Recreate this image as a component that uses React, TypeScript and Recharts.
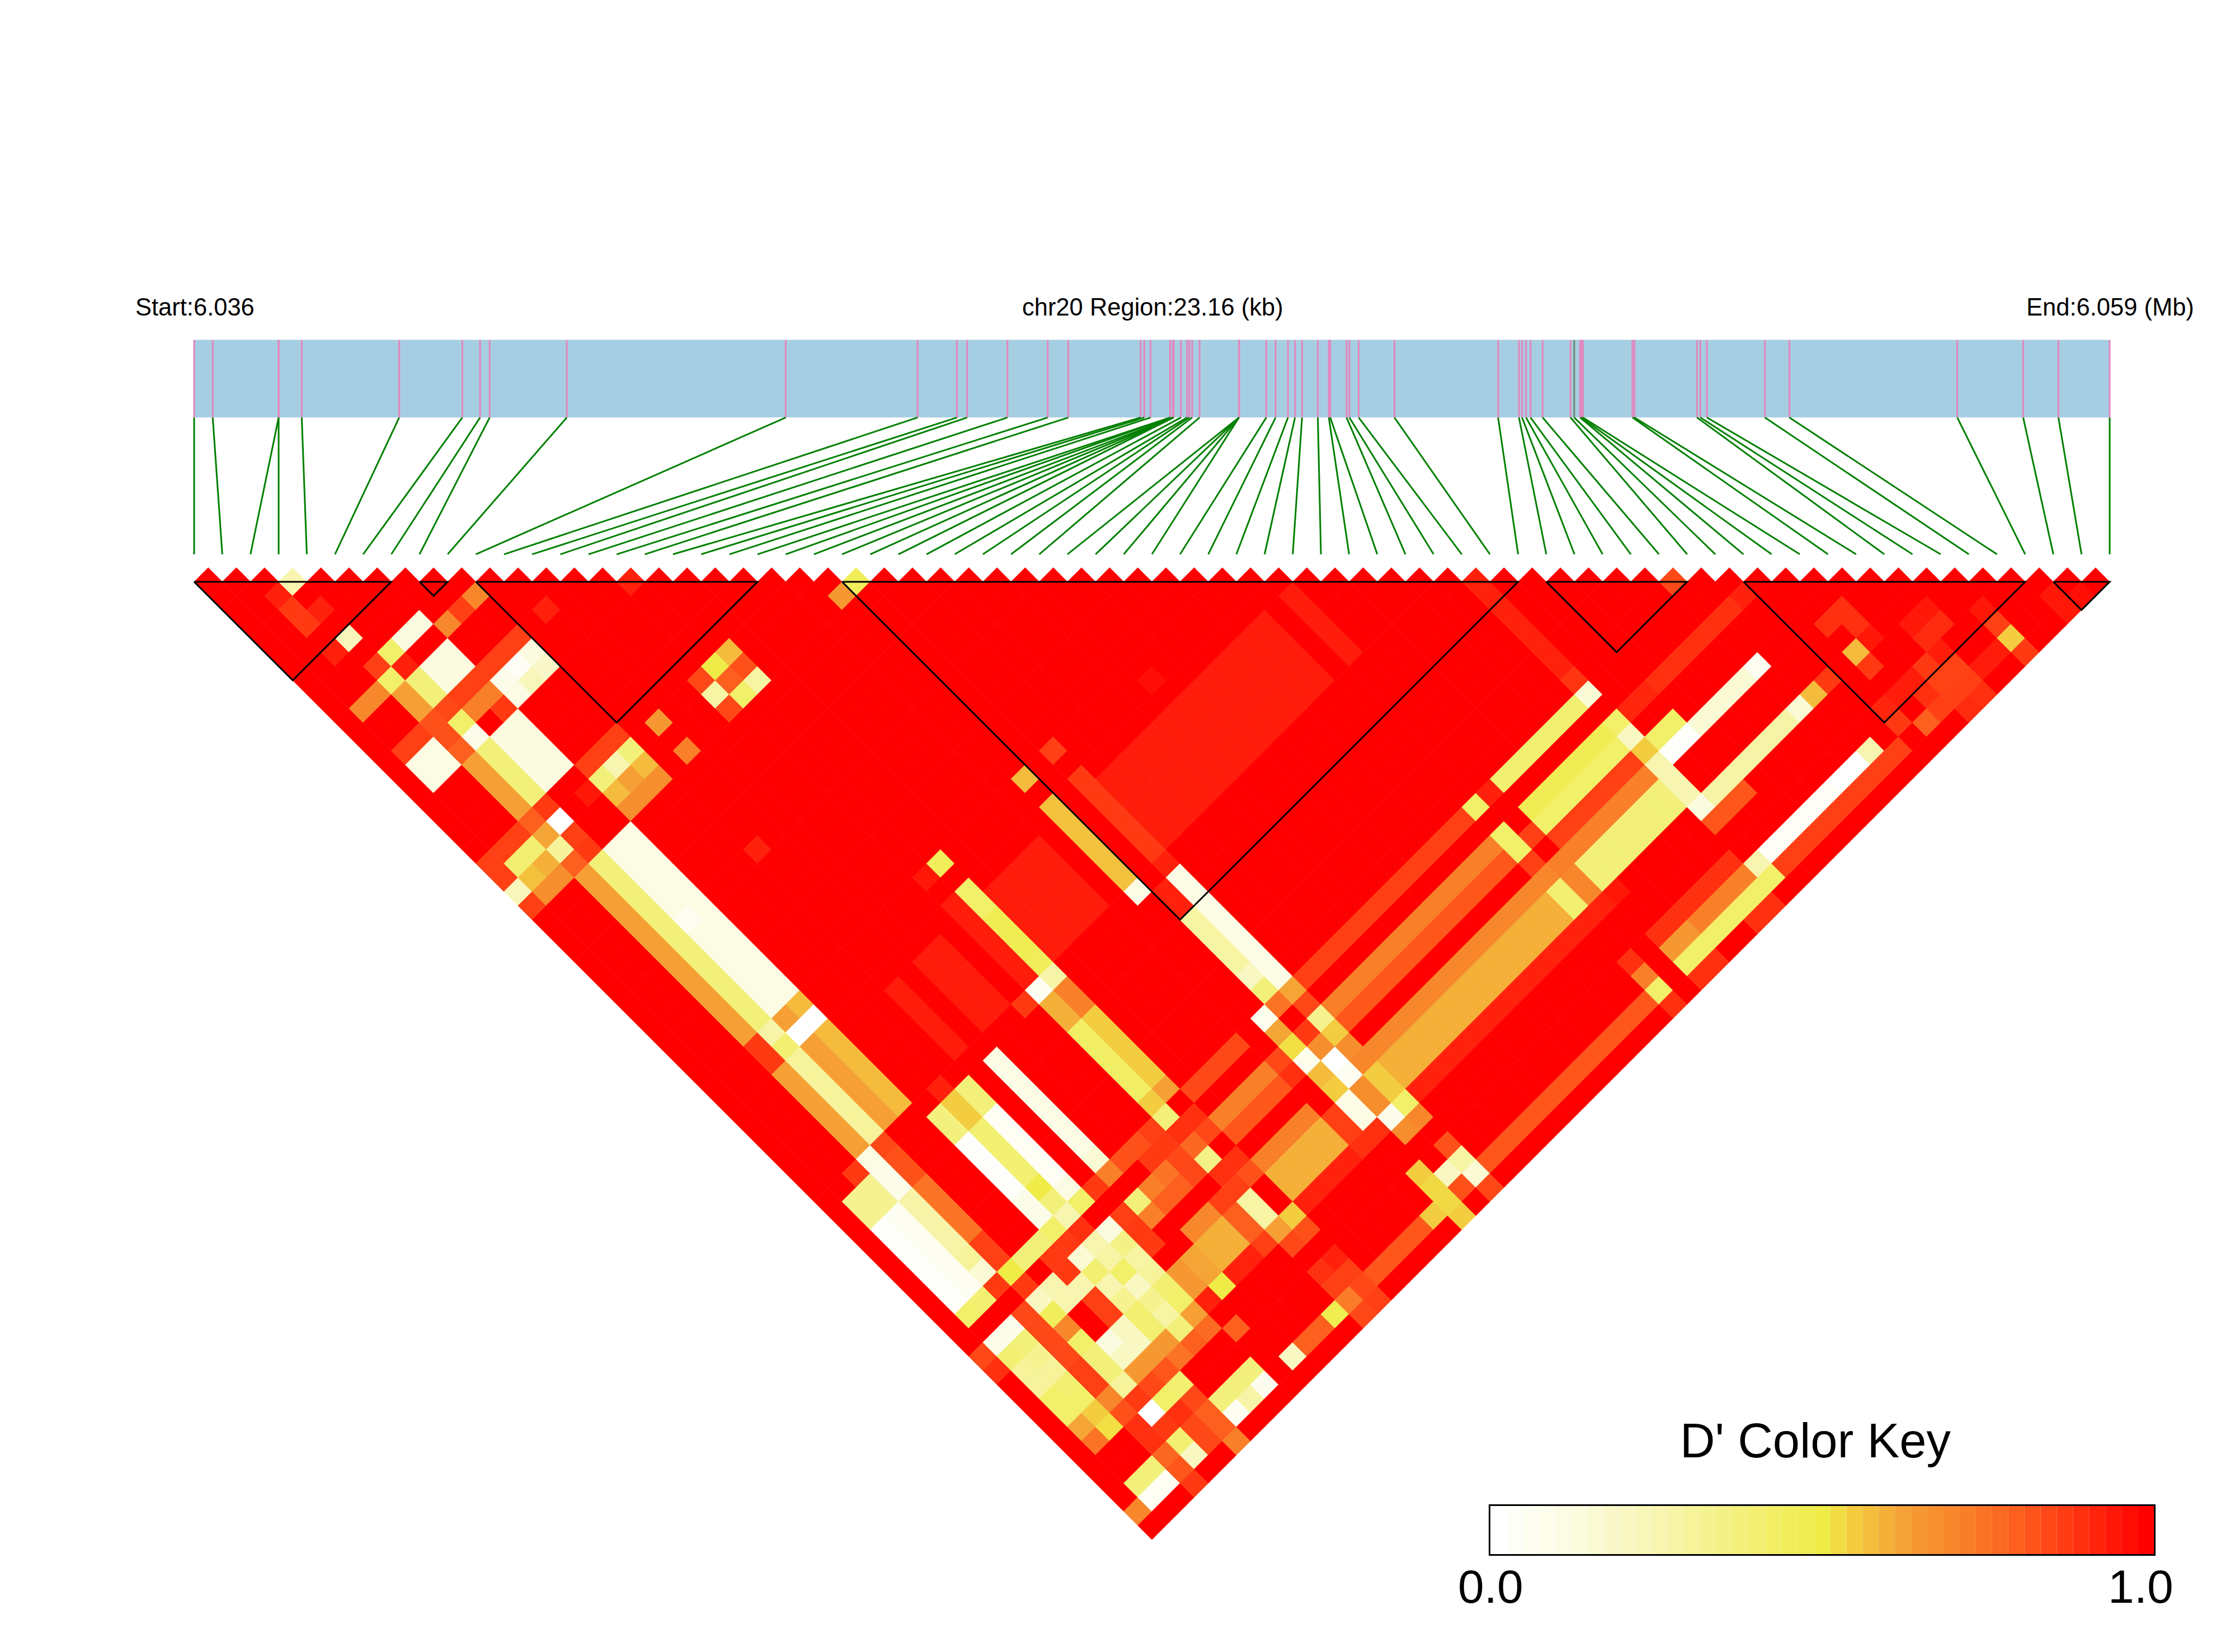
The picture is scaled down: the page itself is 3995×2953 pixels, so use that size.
import React from 'react';
import {
  ScatterChart, Scatter, XAxis, YAxis, ReferenceLine, ReferenceArea,
  BarChart, Bar, Cell,
} from 'recharts';

// SNP positions along the region, in units of SNP slots (0..68)
const snpPositions = [
  0, 0.66, 3, 3, 3.82, 7.28, 9.52, 10.15, 10.49, 13.23, 21.0,
  25.68, 27.08, 27.44, 28.87, 30.3, 31.03, 33.6, 33.73, 33.95,
  34.65, 34.65, 34.75, 34.75, 34.77, 34.77, 35.03, 35.25, 35.33, 35.43, 35.69,
  37.09, 37.09, 37.09, 37.09, 38.06, 38.39, 38.83, 39.08, 39.33, 39.89,
  40.28, 40.33, 40.91, 41.01, 41.34, 42.61, 46.29, 47.03, 47.14, 47.28, 47.44, 47.87,
  48.86, 48.99, 49.2, 49.24, 49.3, 51.06, 51.13, 53.35, 53.47, 53.7,
  55.76, 56.63, 62.59, 64.93, 66.18, 68,
];

// haplotype blocks, first and last SNP
const haploBlocks = [[0, 7], [8, 9], [10, 20], [23, 47], [48, 53], [55, 65], [66, 68]];

// D' values that are not 1.0: [iFrom, iTo, jFrom, jTo, d]
const ldBlocks = [
  [3,3,4,4,.25],[2,2,4,4,.93],[2,2,5,6,.88],[3,3,6,6,.93],[15,15,16,16,.93],[11,11,14,14,.93],[23,23,24,24,.45],[22,22,24,24,.65],
  [3,3,8,8,.22],[2,2,8,8,.93],[5,6,10,10,.12],[7,7,11,11,.7],[8,8,11,11,.87],[9,9,11,11,.7],[4,4,10,10,.42],[3,3,10,10,.87],[4,4,11,11,.93],[5,6,12,13,.12],[3,3,11,11,.42],[1,2,11,11,.7],[4,4,12,13,.38],[3,3,12,13,.63],
  [5,9,14,14,.87],[3,3,14,14,.83],[1,2,14,14,.87],[4,4,14,14,.85],
  [4,4,15,15,.42],[3,3,15,15,.83],[1,2,15,16,.1],[3,3,16,16,.8],[4,4,16,16,.08],[9,9,15,15,.12],[9,9,16,16,.18],[8,8,15,15,.03],[8,8,16,16,.22],[7,7,15,15,.08],[7,7,16,16,.1],[6,6,15,15,.72],[5,5,15,15,.72],[6,6,16,16,.88],
  [5,6,17,20,.12],[4,4,17,20,.38],[3,3,17,20,.63],
  [4,4,21,21,.88],[3,3,21,21,.8],[4,4,22,22,0],[3,3,22,22,.62],[2,2,22,22,.4],[3,3,23,23,.3],[2,2,23,23,.6],[1,1,22,22,.4],[1,1,23,23,.57],[0,2,21,21,.87],[0,0,22,22,.87],[0,0,23,23,.22],[0,0,24,24,.87],[1,2,24,24,.68],[3,3,24,24,.8],[4,4,23,23,.87],[4,4,24,24,.88],[6,6,22,22,.95],
  [7,9,21,21,.87],[9,9,22,22,.38],[8,8,22,22,.25],[7,7,22,22,.38],[9,9,23,23,.58],[8,8,23,23,.63],[7,7,23,23,.58],[7,9,24,24,.68],[11,11,22,22,.65],[11,11,24,24,.72],[10,10,30,30,.93],
  [16,16,22,22,.58],[15,15,22,22,.5],[16,16,23,23,.83],[14,14,22,22,.85],[15,15,23,23,.8],[16,16,24,24,.28],[14,14,23,23,.28],[15,15,24,24,.42],[14,14,24,24,.85],
  [5,6,25,36,.1],[5,5,30,30,.05],[4,4,25,36,.38],[3,3,25,36,.63],
  [6,6,37,37,.58],[5,5,37,37,.63],[4,4,37,37,.27],[3,3,37,37,.88],[5,6,38,38,0],[4,4,38,38,.4],[3,3,38,38,.88],[6,6,39,44,.58],[5,5,39,44,.63],[4,4,39,44,.3],[3,3,39,44,.63],
  [4,4,45,45,.85],[3,3,45,45,.1],[2,2,45,45,.88],[4,4,46,46,.83],[3,3,46,46,.08],[1,2,46,47,.33],[3,3,47,47,.08],[4,4,47,47,.83],[4,4,48,51,.75],[4,4,52,53,.87],[3,3,48,51,.27],[3,3,52,52,.3],[3,3,53,53,.15],[2,2,48,53,.05],[1,1,48,53,.02],[2,2,54,54,.4],[1,1,54,54,.42],[3,3,54,54,.88],[4,4,54,54,.5],[5,6,54,54,.38],[7,7,54,54,.42],
  [11,11,46,52,.1],[11,11,53,53,.15],[8,8,45,45,.93],[9,9,46,47,.38],[8,8,46,47,.55],[7,7,46,47,.37],[9,9,48,52,.04],[9,9,53,53,.1],[9,9,54,54,.42],[8,8,48,51,.4],[8,8,52,52,.5],[8,8,53,53,.38],[8,8,54,54,.25],[7,7,48,51,.02],[7,7,52,53,.08],
  [22,22,37,37,.58],[24,24,37,37,.87],[16,16,37,37,.45],[15,15,37,37,.95],[30,30,38,38,.97],[22,22,39,44,.57],[22,22,45,45,.1],[24,24,39,44,.88],[24,24,45,45,.93],[24,24,46,47,.1],[23,23,46,47,.93],[24,24,48,53,.1],[23,23,48,51,.28],[23,23,52,52,.2],[23,23,53,53,.38],[24,24,54,54,.62],[23,23,54,54,.75],[22,22,54,54,.07],
  [17,20,40,44,.94],[16,16,39,40,.42],[16,16,41,43,.47],[16,16,44,44,.45],[16,16,45,45,.27],[15,15,45,45,.05],[14,14,45,45,.88],[16,16,46,47,.72],[15,15,46,47,.6],[16,16,48,52,.55],[16,16,53,53,.63],[15,15,48,52,.43],[15,15,53,53,.55],[15,15,54,54,.38],[15,15,39,44,.94],[12,13,40,44,.94],[10,10,40,44,.94],[25,36,40,44,.94],[38,38,40,44,.94],[45,45,46,52,.93],[45,45,53,53,.89],[45,45,54,54,.15],[39,44,54,54,.4],[37,37,54,54,.42],[38,38,54,54,.93],[25,36,54,54,.87],[17,20,54,54,.85],[14,14,54,54,.87],[12,13,54,54,.83],[11,11,54,54,.72],[10,10,54,54,.88],
  [17,20,56,56,.72],[25,36,56,56,.72],[21,21,56,56,.85],[37,37,56,57,.42],[38,38,57,57,.87],[17,20,57,57,.82],[25,36,57,57,.82],[37,37,58,58,.87],[37,37,59,59,.7],[25,36,59,59,.7],[38,44,59,59,.72],[39,44,58,58,.87],[25,36,60,61,.6],[17,20,59,59,.72],[17,20,60,61,.6],[37,37,60,61,.4],[38,38,60,61,.7],[39,44,60,61,.38],
  [45,45,56,56,.42],[45,45,57,57,.2],[45,45,58,58,.55],[45,45,59,61,.25],[45,45,62,62,.12],[39,44,56,56,.47],[39,44,57,57,.42],[46,47,56,56,.92],[48,53,56,56,.9],[54,54,56,56,.93],[46,47,58,58,.42],[46,47,59,59,.02],[48,51,59,59,.15],[52,52,59,59,.05],[46,51,62,62,.27],[52,52,62,62,.15],[53,53,62,62,.58],[54,54,62,62,.88],[45,47,63,63,.82],[25,38,62,62,.93],[39,39,62,62,.95],[17,20,62,62,.93],[21,22,62,62,.9],
  [24,24,55,55,.85],[22,22,55,55,.62],[24,24,56,56,.33],[23,23,56,56,.88],[22,22,56,56,.52],[24,24,57,57,.55],[23,23,57,57,.68],[22,22,57,57,.07],[21,21,57,57,.9],[24,24,58,58,.68],[23,23,58,58,0],[22,22,58,58,.58],[24,24,59,59,.7],[23,23,59,59,.05],[22,22,59,59,.55],[24,24,60,61,.55],[23,23,60,61,.68],[22,22,60,61,.1],[21,21,60,61,.87],[24,24,62,62,.42],[23,23,62,62,.08],[24,24,63,63,.7],[23,23,63,63,.68],
  [24,24,65,65,.83],[24,24,66,66,.28],[23,23,66,66,.2],[24,24,67,67,.15],[23,23,67,67,.83],[24,24,68,68,.85],[22,22,65,65,.55],[22,22,66,67,.53],[22,22,68,68,.55],[21,21,67,67,.55],[17,20,67,67,.82],[25,36,67,67,.82],[37,37,65,65,.9],[37,37,66,66,.72],[37,37,67,67,.42],[37,37,68,68,.9],[39,44,65,65,.9],[39,40,66,66,.65],[41,44,66,66,.72],[45,45,66,66,.25],[45,45,67,67,.42],[39,44,67,67,.42],[46,50,66,66,.03],[51,52,66,66,0],[53,53,66,66,.25],[46,54,67,67,.87],[39,40,68,68,.9],[43,44,68,68,.9],
  [52,52,53,53,.85],[57,57,60,60,.9],[56,56,60,60,.9],[57,57,61,61,.9],[57,57,62,62,.95],[56,56,62,62,.58],[56,56,63,63,.88],[60,60,63,63,.95],[59,59,63,63,.95],[60,60,64,64,.91],[59,59,64,64,.91],[58,58,65,65,.88],[62,62,65,65,.95],[62,62,66,66,.87],[62,62,67,67,.55],[62,62,68,68,.88],[59,59,65,65,.94],[57,57,65,65,.94],[56,56,65,65,.94],[55,55,65,65,.92],[59,59,66,66,.86],[58,58,66,66,.86],[57,57,66,66,.9],[59,59,67,67,.87],[58,58,67,67,.87],[57,57,67,67,.87],[56,56,67,67,.8],[60,61,67,67,.94],[59,59,68,68,.9],[58,58,68,68,.91],[55,55,66,66,.88],[65,65,67,68,.95],[66,66,68,68,.97],
  [16,16,55,55,.9],[15,15,55,55,.9],[14,14,55,55,.88],[13,13,55,55,.88],[15,15,56,56,.78],[16,16,56,56,.85],[14,14,56,56,.85],[15,15,57,57,.35],[14,14,57,57,.85],[13,13,57,57,.8],[12,12,57,57,.8],[13,13,56,56,.75],[12,12,56,56,.72],[11,11,56,56,.38],[11,11,57,57,.72],[10,10,56,56,.87],[10,10,57,57,.88],[10,10,58,58,.88],
  [15,16,58,58,.9],[16,16,59,59,.83],[14,15,59,59,.87],[12,13,59,59,.7],[12,13,60,61,.6],[11,11,60,61,.62],[10,10,60,61,.65],[14,14,60,61,.8],[15,15,60,61,.28],[15,15,62,62,.63],[16,16,62,62,.55],[16,16,63,63,.83],[15,15,63,63,.85],[14,14,62,62,.87],[12,13,62,62,.93],[11,11,62,62,.5],[10,10,62,62,.93],[9,9,62,62,.63],[9,9,63,63,.77],[8,8,62,62,.38],[8,8,63,63,.8],[7,7,63,63,.75],[10,10,64,64,.8],
  [11,11,67,67,.2],[14,14,67,67,.48],[15,15,67,67,.73],[12,13,67,67,.8],[16,16,67,67,.85],[15,15,68,68,.85],[16,16,68,68,.87],[16,16,66,66,.87],[15,15,65,65,.9],[16,16,65,65,.93],[15,15,66,66,.87],
  [7,9,66,66,.37],[9,9,67,67,.06],[8,8,67,67,.27],[7,7,67,67,.05],[6,6,64,64,.4],[5,5,64,64,.42],[4,4,64,64,0],[3,3,64,64,.9],[6,6,65,65,.85],[5,5,65,65,.9],[4,4,65,65,.88],[3,3,65,65,.9],[6,6,66,66,.8],[5,5,66,66,.85],[6,6,67,67,.8],[5,5,67,67,.85],[6,6,68,68,.72],[4,4,66,66,.4],[3,3,66,66,.78],[4,4,67,67,.2],[3,3,67,67,.82],[3,3,68,68,.88],[1,2,66,66,.38],[1,2,67,67,.04],[0,0,67,67,.7],
  [2,2,56,56,.08],[1,1,56,56,.08],[0,0,56,56,.85],[0,0,57,57,.9],[1,1,57,57,.4],[2,2,57,57,.38],[3,3,57,57,.85],[4,4,57,57,.45],[4,4,56,56,.2],[3,3,56,56,.85],[5,6,57,57,.25],[5,5,56,56,.25],[4,4,55,55,.88],[6,7,55,55,.88],[8,8,55,55,.9],[6,6,56,56,.88],
  [9,9,56,56,.12],[8,8,56,56,.25],[9,9,57,57,.35],[7,7,56,56,.15],[8,8,57,57,.28],[9,9,58,58,.28],[7,7,57,57,.4],[8,8,58,58,.42],[9,9,59,59,.3],[7,7,58,58,.25],[8,8,59,59,.2],[9,9,60,60,.4],[7,7,59,59,.33],[8,8,60,60,.33],[9,9,61,61,.42],[7,7,60,60,.4],[8,8,61,61,.28],
  [6,6,58,59,.87],[6,6,60,61,.2],[5,5,60,60,.12],[5,5,61,61,.2],[7,7,61,61,.4],[7,7,62,62,.65],[6,6,62,62,.65],[5,5,62,62,.65],[6,6,63,63,.82],[5,5,63,63,.85],[4,4,58,58,.7],[3,3,58,58,.85],[2,2,58,58,.33],[1,1,58,58,.3],[1,1,59,59,.3],[2,2,59,59,.3],[3,3,59,59,.85],[4,4,59,59,.42],[4,4,60,60,.38],[3,3,60,60,.87],[2,2,60,60,.4],[1,1,60,60,.42],[1,1,61,61,.42],[2,2,61,61,.42],[3,3,61,61,.87],[4,4,61,61,.38],[4,4,62,62,.3],[3,3,62,62,.7],[2,2,62,62,.55],[1,1,62,62,.62],[1,1,63,63,.75],[2,2,63,63,.52],[3,3,63,63,.83],[4,4,63,63,.88],
];

const keySteps = [
  0, .025, .05, .075, .1, .125, .15, .175, .2, .225, .25, .275, .3, .325, .35, .375, .4, .425, .45, .475, .5,
  .525, .55, .575, .6, .625, .65, .675, .7, .725, .75, .775, .8, .825, .85, .875, .9, .925, .95, .975, 1,
];

// colour ramp
const rampStops = [0, .12, .25, .38, .5, .55, .63, .72, .8, .88, .94, 1];
const rampColors = ['#ffffff', '#fbfbdf', '#f8f5b0', '#f3f07a', '#efec47', '#f3cc40', '#f59f35', '#f98029', '#fd5f1e', '#ff3a12', '#ff1c0a', '#ff0000'];

function colorFor(d: number) {
  let k = 0;
  while (k < rampStops.length - 2 && d > rampStops[k + 1]) k++;
  const t = (d - rampStops[k]) / (rampStops[k + 1] - rampStops[k]);
  const hex = (s: string, o: number) => parseInt(s.slice(o, o + 2), 16);
  const mix = (o: number) => Math.round(hex(rampColors[k], o) + (hex(rampColors[k + 1], o) - hex(rampColors[k], o)) * t);
  return `rgb(${mix(1)},${mix(3)},${mix(5)})`;
}

// every pair of SNPs is a cell, D' = 1 unless listed above
const lookup = new Map<string, number>();
ldBlocks.forEach(([i1, i2, j1, j2, d]) => {
  for (let i = i1; i <= i2; i++) for (let j = j1; j <= j2; j++) lookup.set(`${i}-${j}`, d);
});
const cells: { x: number; y: number; d: number }[] = [];
for (let i = 0; i < snpPositions.length; i++) {
  for (let j = i + 1; j < snpPositions.length; j++) {
    cells.push({ x: (i + j) / 2, y: j - i - 1, d: lookup.get(`${i}-${j}`) ?? 1 });
  }
}

const CHART_W = 3995;
const CHART_H = 2953;
const HALF = 25.18;
const BAR_TOP = -17.17;
const BAR_BOTTOM = -11.66;
const LINK_END = -1.95;
const plotMargin = { top: 607.6, right: 224, bottom: 201, left: 347 };

function Diamond(props: any) {
  const { cx, cy, payload } = props;
  const fill = colorFor(payload.d);
  return (
    <polygon
      points={`${cx - HALF},${cy} ${cx},${cy - HALF} ${cx + HALF},${cy} ${cx},${cy + HALF}`}
      fill={fill}
      stroke={fill}
      strokeWidth={0.8}
    />
  );
}

const labelFont = '"Liberation Sans", Arial, sans-serif';

export default function App() {
  return (
    <div style={{ position: 'absolute', left: 0, top: 0, width: CHART_W, height: CHART_H, background: '#fff' }}>
      <ScatterChart width={CHART_W} height={CHART_H} margin={plotMargin}>
        <XAxis type="number" dataKey="x" domain={[0, 68]} hide />
        <YAxis type="number" dataKey="y" domain={[BAR_TOP, 68]} reversed hide />
        <ReferenceArea x1={0} x2={68} y1={BAR_TOP} y2={BAR_BOTTOM} fill="#a6cee3" fillOpacity={1} stroke="none" ifOverflow="visible" />
        {snpPositions.map((p, k) => (
          <ReferenceLine
            key={`tick-${k}`}
            segment={[{ x: p, y: BAR_TOP }, { x: p, y: BAR_BOTTOM }]}
            stroke={k === 54 ? '#6f8f7a' : '#e08abf'}
            strokeWidth={3.2}
            ifOverflow="visible"
          />
        ))}
        {snpPositions.map((p, k) => (
          <ReferenceLine
            key={`link-${k}`}
            segment={[{ x: p, y: BAR_BOTTOM }, { x: k, y: LINK_END }]}
            stroke="#008000"
            strokeWidth={3}
            ifOverflow="visible"
          />
        ))}
        <Scatter data={cells} shape={<Diamond />} isAnimationActive={false} />
        {/* block outlines come after the cells so they are drawn over them */}
        {haploBlocks.map(([a, b]) => (
          <Scatter
            key={`block-${a}`}
            data={[{ x: a, y: 0 }, { x: b, y: 0 }, { x: (a + b) / 2, y: b - a }, { x: a, y: 0 }]}
            line={{ stroke: '#000', strokeWidth: 3 }}
            shape={() => <g />}
            isAnimationActive={false}
          />
        ))}
      </ScatterChart>

      <div style={{ position: 'absolute', left: 2661, top: 2689, boxSizing: 'border-box', width: 1192, height: 92, border: '3px solid #000' }}>
        <BarChart
          width={1186}
          height={86}
          data={keySteps.map((d) => ({ d, h: 1 }))}
          margin={{ top: 0, right: 0, bottom: 0, left: 0 }}
          barCategoryGap={0}
        >
          <XAxis dataKey="d" hide />
          <YAxis domain={[0, 1]} hide />
          <Bar dataKey="h" isAnimationActive={false}>
            {keySteps.map((d) => (
              <Cell key={d} fill={colorFor(d)} />
            ))}
          </Bar>
        </BarChart>
      </div>

      <svg width={CHART_W} height={CHART_H} style={{ position: 'absolute', left: 0, top: 0, pointerEvents: 'none' }} fontFamily={labelFont} fill="#000">
        <text x={242} y={564} fontSize={43.5}>Start:6.036</text>
        <text x={1827} y={564} fontSize={43.5}>chr20 Region:23.16 (kb)</text>
        <text x={3622} y={564} fontSize={43.5}>End:6.059 (Mb)</text>
        <text x={3003} y={2605} fontSize={86.7}>D' Color Key</text>
        <text x={2606} y={2865} fontSize={84}>0.0</text>
        <text x={3768} y={2865} fontSize={84}>1.0</text>
      </svg>
    </div>
  );
}
